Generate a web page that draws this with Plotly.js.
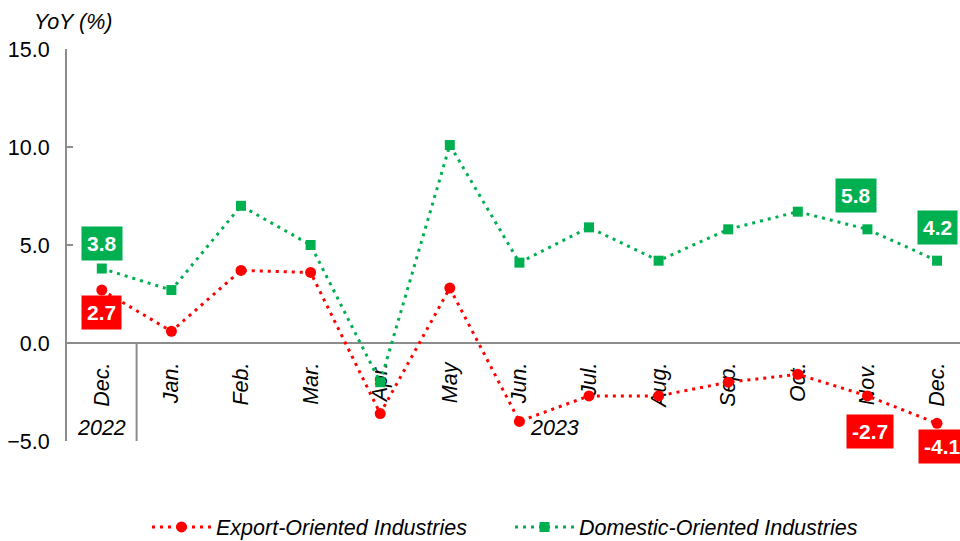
<!DOCTYPE html>
<html><head><meta charset="utf-8">
<script src="https://cdn.plot.ly/plotly-3.0.1.min.js"></script>
<style>html,body{margin:0;padding:0;background:#fff}</style>
</head><body><div id="chart" style="width:960px;height:541px"></div>
<script>
const months = ["Dec.","Jan.","Feb.","Mar.","Apr.","May","Jun.","Jul.","Aug.","Sep.","Oct.","Nov.","Dec."];
const years = ["2022","2023"];
const yearFirstIndex = [0, 1];
const yearLastIndex = [0, 12];
const exportVals = [2.7,0.6,3.7,3.6,-3.6,2.8,-4.0,-2.7,-2.7,-2.0,-1.6,-2.7,-4.1];
const domesticVals = [3.8,2.7,7.0,5.0,-2.0,10.1,4.1,5.9,4.2,5.8,6.7,5.8,4.2];
const yTicks = [-5,0,5,10,15];
const labeledIdx = [0, 11, 12];

const RED = '#FF0000', GREEN = '#00B050', GRAY = '#8C8C8C';
const FONT = '"Liberation Sans", Arial, sans-serif';
const FS = 21.5;
const idx = months.map((m,i)=>i);
const bounds = idx.slice(0,-1).map(i=>i+0.5);
const xRange = [-0.5, 12.33];
const yRange = [-5, 15];
const zeroPos = (0 - yRange[0])/(yRange[1]-yRange[0]);

const traces = [
  {x: idx, y: exportVals, name: 'Export-Oriented Industries', type:'scatter', mode:'lines+markers',
   line:{color:RED, width:3, dash:'3px,5px'}, marker:{symbol:'circle', size:11, color:RED}},
  {x: idx, y: domesticVals, name: 'Domestic-Oriented Industries', type:'scatter', mode:'lines+markers',
   line:{color:GREEN, width:3, dash:'3px,5px'}, marker:{symbol:'square', size:10, color:GREEN}}
];

const annotations = [];
annotations.push({xref:'paper', yref:'paper', x:-0.039, y:1.069, xanchor:'left', yanchor:'middle',
  text:'YoY (%)', showarrow:false, font:{family:FONT, size:FS, color:'#000', style:'italic'}});
years.forEach((yr,k)=>{
  annotations.push({xref:'x', yref:'y', x:(yearFirstIndex[k]+yearLastIndex[k])/2, y:-4.35,
    text:yr, showarrow:false, font:{family:FONT, size:FS, color:'#000', style:'italic'}});
});
const shiftsG = {0:[0,25], 11:[-11,34], 12:[0,33]};
const shiftsR = {0:[0,-22], 11:[3,-36], 12:[5,-23]};
labeledIdx.forEach(i=>{
  annotations.push({x:i, y:domesticVals[i], text:'<b>'+domesticVals[i].toFixed(1)+'</b>', showarrow:false,
    xshift:shiftsG[i][0], yshift:shiftsG[i][1], bgcolor:GREEN, borderpad:5,
    font:{family:FONT, size:21, color:'#fff'}});
  annotations.push({x:i, y:exportVals[i], text:'<b>'+exportVals[i].toFixed(1)+'</b>', showarrow:false,
    xshift:shiftsR[i][0], yshift:shiftsR[i][1], bgcolor:RED, borderpad:5,
    font:{family:FONT, size:21, color:'#fff'}});
});

const layout = {
  width:960, height:541, margin:{l:67, r:0, t:49, b:100, autoexpand:false},
  paper_bgcolor:'#fff', plot_bgcolor:'#fff',
  font:{family:FONT, color:'#000'},
  showlegend:true,
  legend:{orientation:'h', xref:'container', x:147/960, xanchor:'left', yref:'container', y:1-527/541, yanchor:'middle',
    itemwidth:59, entrywidth:289,
    font:{family:FONT, size:FS, color:'#000', style:'italic'}},
  xaxis:{range:xRange, anchor:'free', position:zeroPos, showline:true, linecolor:GRAY, linewidth:2,
    tickmode:'array', tickvals:idx, ticktext:months, tickangle:-90, ticks:'', showgrid:false, zeroline:false,
    tickfont:{family:FONT, size:FS, color:'#000', style:'italic'}, ticklabelstandoff:10, layer:'below traces'},
  xaxis2:{range:xRange, anchor:'free', position:zeroPos, overlaying:'x', showline:false,
    tickmode:'array', tickvals:bounds, ticks:'outside', ticklen:59, tickwidth:2, tickcolor:GRAY,
    showticklabels:false, showgrid:false, zeroline:false},
  yaxis:{range:yRange, tickmode:'array', tickvals:yTicks, tickformat:'.1f', ticks:'inside', ticklen:6,
    tickwidth:2, tickcolor:GRAY, showline:true, linecolor:GRAY, linewidth:2, showgrid:false, zeroline:false,
    tickfont:{family:FONT, size:FS, color:'#000'}, ticklabelstandoff:11},
  shapes:[{type:'line', xref:'x', yref:'y', x0:yearFirstIndex[1]-0.5, x1:yearFirstIndex[1]-0.5, y0:0, y1:yRange[0],
    line:{color:GRAY, width:2}}],
  annotations:annotations
};
Plotly.newPlot('chart', traces, layout, {displayModeBar:false, staticPlot:true});
</script></body></html>
